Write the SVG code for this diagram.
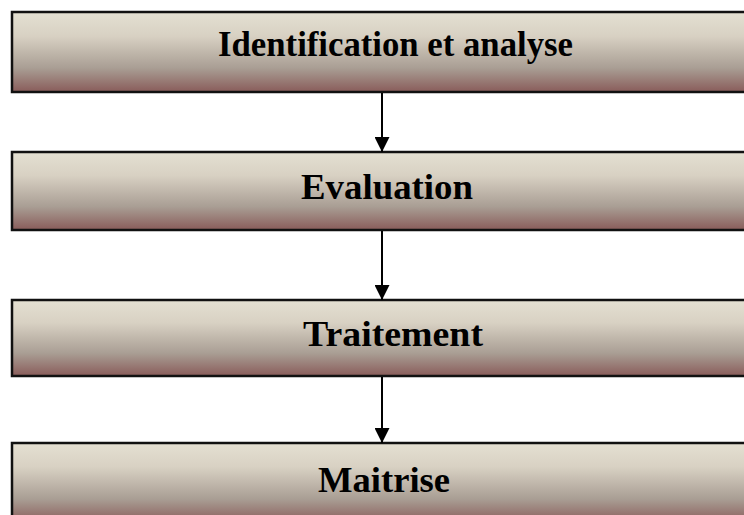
<svg xmlns="http://www.w3.org/2000/svg" width="744" height="515" viewBox="0 0 744 515">
  <defs>
    <linearGradient id="boxFill" x1="0" y1="0" x2="0" y2="1">
      <stop offset="0" stop-color="#e4e0d2"/>
      <stop offset="0.3" stop-color="#d8d1c3"/>
      <stop offset="0.7" stop-color="#a99e94"/>
      <stop offset="1" stop-color="#895c5a"/>
    </linearGradient>
    <marker id="arrowHead" markerWidth="15" markerHeight="15" refX="15" refY="7.5" orient="auto" markerUnits="userSpaceOnUse">
      <path d="M0,0 L15,7.5 L0,15 Z" fill="#000"/>
    </marker>
  </defs>
  <style>
    .box { fill: url(#boxFill); stroke: #111; stroke-width: 2.5; }
    .label { font-family: "Liberation Serif", "Times New Roman", serif; font-weight: bold; font-size: 36px; fill: #000; text-anchor: middle; }
    .link { stroke: #000; stroke-width: 2; fill: none; marker-end: url(#arrowHead); }
  </style>
  <rect width="744" height="515" fill="#fff"/>

  <g id="node-identification">
    <rect class="box" x="12" y="12" width="760" height="80"/>
    <text class="label" x="395.5" y="56" textLength="355" lengthAdjust="spacingAndGlyphs">Identification et analyse</text>
  </g>
  <g id="node-evaluation">
    <rect class="box" x="12" y="152" width="760" height="78"/>
    <text class="label" x="387" y="199" textLength="172" lengthAdjust="spacingAndGlyphs">Evaluation</text>
  </g>
  <g id="node-traitement">
    <rect class="box" x="12" y="300" width="760" height="76"/>
    <text class="label" x="393" y="346" textLength="180" lengthAdjust="spacingAndGlyphs">Traitement</text>
  </g>
  <g id="node-maitrise">
    <rect class="box" x="12" y="443" width="760" height="80"/>
    <text class="label" x="384" y="492" textLength="132" lengthAdjust="spacingAndGlyphs">Maitrise</text>
  </g>

  <g id="connectors">
    <line class="link" x1="382" y1="93" x2="382" y2="152"/>
    <line class="link" x1="382" y1="231" x2="382" y2="300"/>
    <line class="link" x1="382" y1="377" x2="382" y2="443"/>
  </g>
</svg>
